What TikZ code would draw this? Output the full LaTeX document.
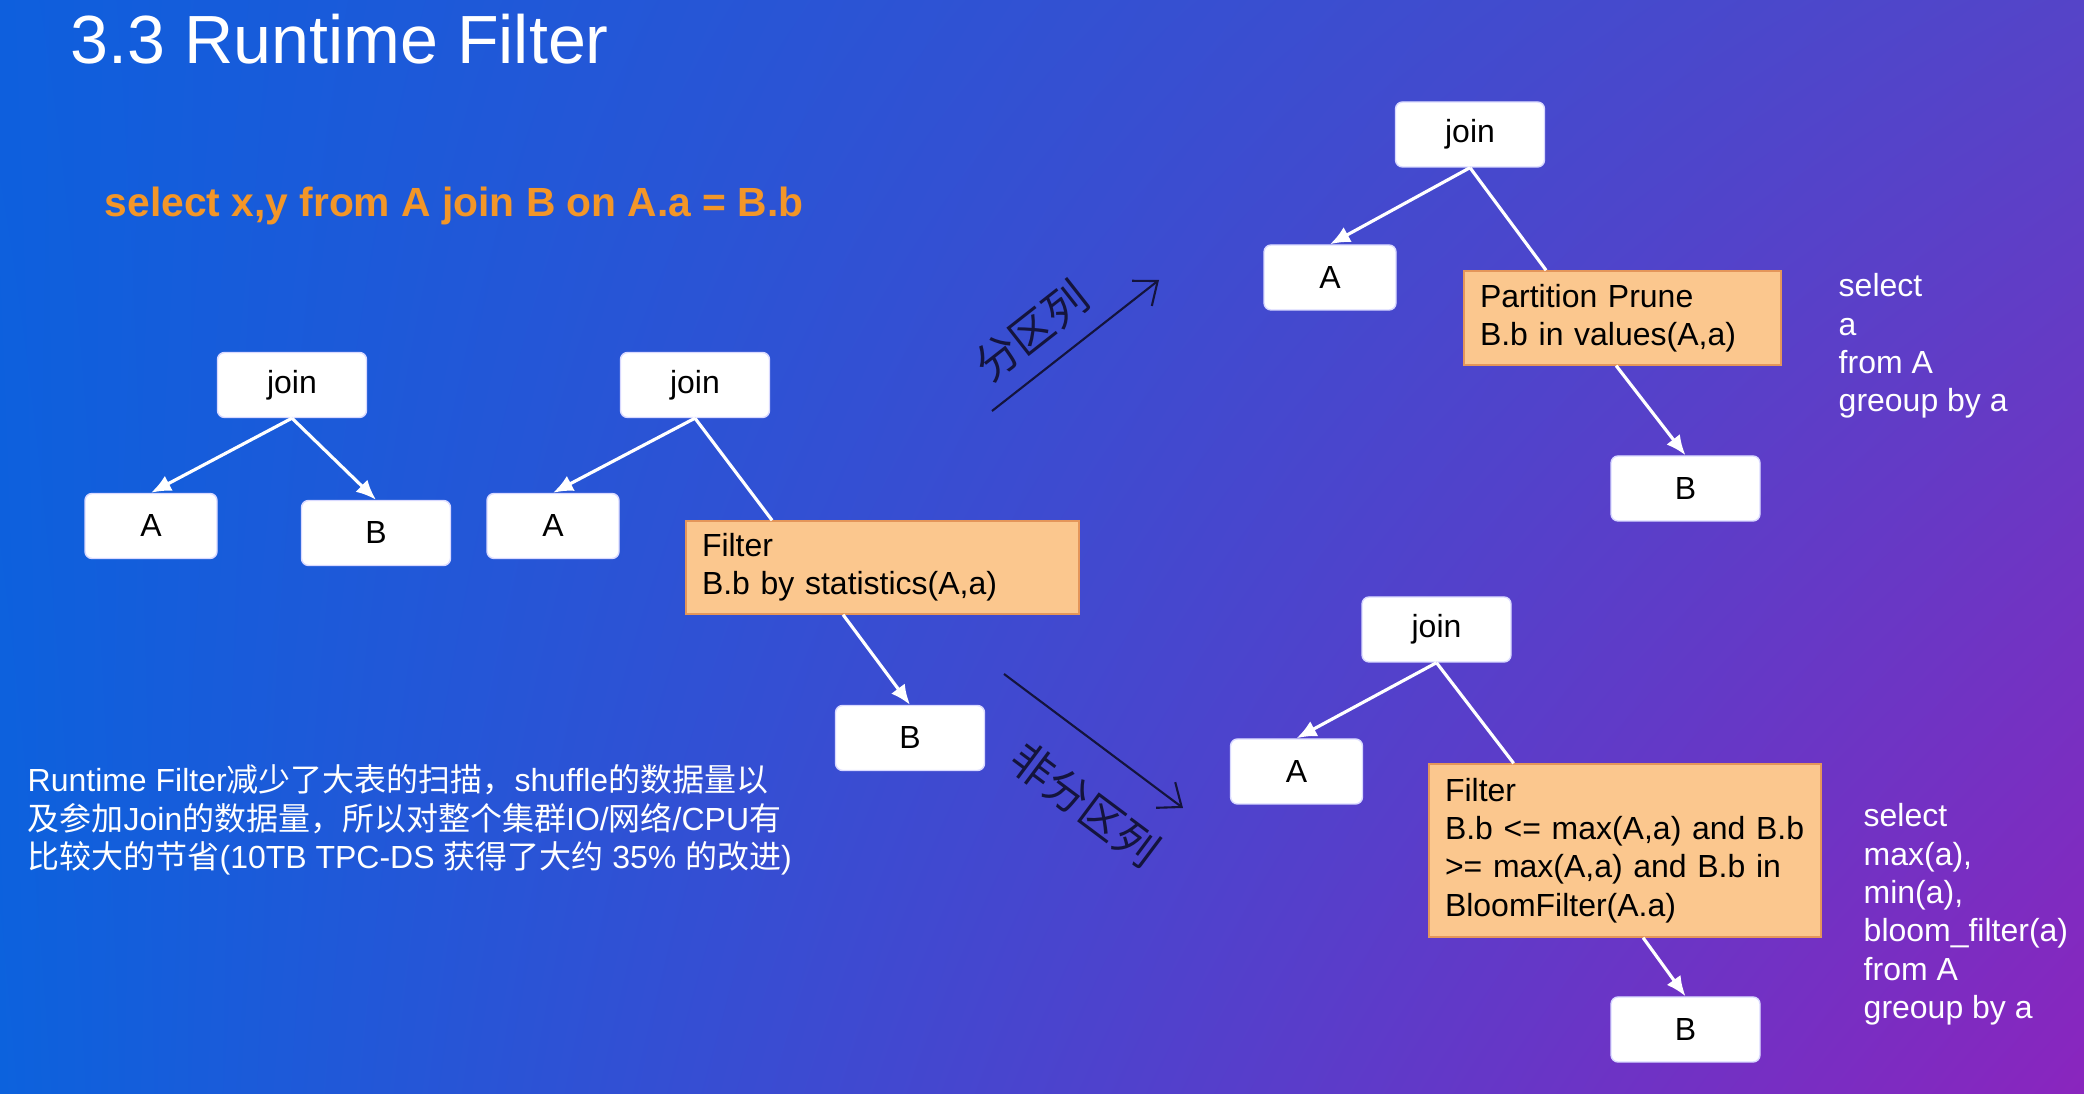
\documentclass[tikz,border=0pt]{standalone}
\usepackage{fontspec}
\setmainfont{Liberation Sans}
\newfontfamily\cjk{Noto Sans CJK SC}
\usetikzlibrary{arrows.meta,calc,shadings}

\definecolor{bgul}{RGB}{14,95,221}
\definecolor{bgur}{RGB}{85,68,200}
\definecolor{bgll}{RGB}{12,98,221}
\definecolor{bglr}{RGB}{138,37,190}
\definecolor{sqlorange}{RGB}{243,150,40}
\definecolor{fboxfill}{RGB}{251,199,142}
\definecolor{fboxline}{RGB}{228,150,90}
\definecolor{flowcol}{RGB}{20,20,60}

\begin{document}
\begin{tikzpicture}[
    tbox/.style={draw=white!85!blue, fill=white, rounded corners=2pt,
        minimum width=1.49cm, minimum height=0.65cm, inner sep=0pt,
        text=black, font=\fontsize{9.1}{10.9}\selectfont},
    abox/.style={tbox, minimum width=1.32cm},
    fbox/.style={draw=fboxline, fill=fboxfill, align=left, inner xsep=0.16cm,
        inner ysep=0.05cm, text=black, font=\fontsize{9.1}{10.9}\selectfont},
    tedge/.style={white, line width=0.9pt, -{Latex[length=2mm,width=1.7mm]}},
    tline/.style={white, line width=0.9pt},
    flow/.style={flowcol, line width=0.6pt, -{Straight Barb[length=2mm,width=3.2mm]}},
    flowlabel/.style={text=flowcol, sloped, inner sep=1pt, font=\cjk\fontsize{12.3}{12.3}\selectfont},
    note/.style={text=white, align=left, anchor=north west, inner sep=0pt,
        font=\fontsize{9.1}{10.9}\selectfont}
]
    % Background
    \useasboundingbox (0,0) rectangle (20.84,10.94);
    \shade[upper left=bgul, upper right=bgur, lower left=bgll, lower right=bglr]
        (0,0) rectangle (20.84,10.94);

    % Title and query
    \node[anchor=base west, inner sep=0pt, text=white, font=\fontsize{19.4}{22}\selectfont]
        (title) at (0.70,10.30) {3.3 Runtime Filter};
    \node[anchor=base west, inner sep=0pt, text=sqlorange, font=\bfseries\fontsize{11.6}{14}\selectfont]
        (query) at (1.04,8.77) {select x,y from A join B on A.a = B.b};

    % Plain join
    \node[tbox] (join1) at (2.92,7.09) {join};
    \node[abox] (a1) at (1.51,5.68) {A};
    \node[tbox] (b1) at (3.76,5.61) {B};
    \draw[tedge] (join1.south) -- (a1.north);
    \draw[tedge] (join1.south) -- (b1.north);

    % Join with runtime filter
    \node[tbox] (join2) at (6.95,7.09) {join};
    \node[abox] (a2) at (5.53,5.68) {A};
    \node[fbox, text width=3.61cm, minimum height=0.93cm] (filt2) at (8.825,5.265)
        {Filter\\B.b by statistics(A,a)};
    \node[tbox] (b2) at (9.10,3.56) {B};
    \draw[tedge] (join2.south) -- (a2.north);
    \draw[tline] (join2.south) -- ($(filt2.north west)!0.22!(filt2.north east)$);
    \draw[tedge] ($(filt2.south west)!0.40!(filt2.south east)$) -- (b2.north);

    % Branch arrows
    \coordinate (up0) at (9.92,6.83);
    \coordinate (up1) at (11.59,8.14);
    \coordinate (dn0) at (10.04,4.20);
    \coordinate (dn1) at (11.83,2.86);
    \draw[flow] (up0) -- node[flowlabel, pos=0.38, above=4pt] {分区列} (up1);
    \draw[flow] (dn0) -- node[flowlabel, pos=0.64, below=9pt] {非分区列} (dn1);

    % Partition column
    \node[tbox] (join3) at (14.70,9.595) {join};
    \node[abox] (a3) at (13.30,8.165) {A};
    \node[fbox, text width=2.85cm, minimum height=0.94cm] (filt3) at (16.225,7.76)
        {Partition Prune\\B.b in values(A,a)};
    \node[tbox] (b3) at (16.855,6.055) {B};
    \draw[tedge] (join3.south) -- (a3.north);
    \draw[tline] (join3.south) -- ($(filt3.north west)!0.26!(filt3.north east)$);
    \draw[tedge] ($(filt3.south west)!0.48!(filt3.south east)$) -- (b3.north);
    \node[note] (side3) at (18.38,8.21) {select\\a\\from A\\greoup by a};

    % Non-partition column
    \node[tbox] (join4) at (14.365,4.645) {join};
    \node[abox] (a4) at (12.965,3.225) {A};
    \node[fbox, text width=3.60cm, minimum height=1.73cm] (filt4) at (16.25,2.435)
        {Filter\\B.b <= max(A,a) and B.b\\>= max(A,a) and B.b in\\BloomFilter(A.a)};
    \node[tbox] (b4) at (16.855,0.645) {B};
    \draw[tedge] (join4.south) -- (a4.north);
    \draw[tline] (join4.south) -- ($(filt4.north west)!0.217!(filt4.north east)$);
    \draw[tedge] ($(filt4.south west)!0.546!(filt4.south east)$) -- (b4.north);
    \node[note] (side4) at (18.63,2.91) {select\\max(a),\\min(a),\\bloom\_filter(a)\\from A\\greoup by a};

    % Summary
    \node[note] (summary) at (0.27,3.30)
        {Runtime Filter{\cjk 减少了大表的扫描，}shuffle{\cjk 的数据量以}\\
         {\cjk 及参加}Join{\cjk 的数据量，所以对整个集群}IO/{\cjk 网络}/CPU{\cjk 有}\\
         {\cjk 比较大的节省}(10TB TPC-DS {\cjk 获得了大约} 35\% {\cjk 的改进})};
\end{tikzpicture}
\end{document}
